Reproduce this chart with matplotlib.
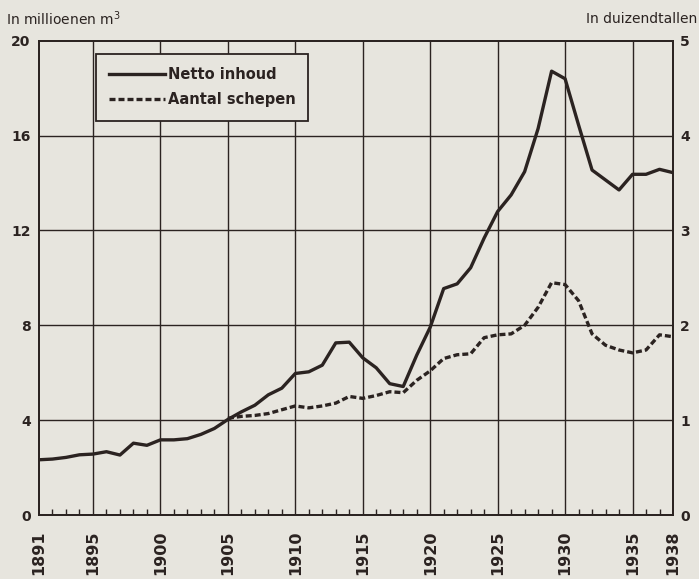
import numpy as np
import matplotlib.pyplot as plt

# jaren en waarden
jaren = list(range(1891, 1939))
netto_inhoud = [2.33, 2.36, 2.43, 2.54, 2.57, 2.67, 2.53, 3.03, 2.94, 3.17,
                3.17, 3.22, 3.40, 3.65, 4.03, 4.35, 4.63, 5.07, 5.35, 5.97,
                6.04, 6.32, 7.26, 7.29, 6.63, 6.21, 5.54, 5.42, 6.74, 7.92,
                9.55, 9.75, 10.43, 11.68, 12.80, 13.50, 14.48, 16.30, 18.72, 18.40,
                16.45, 14.55, 14.13, 13.71, 14.37, 14.37, 14.58, 14.44]

jaren_schepen = list(range(1905, 1939))
aantal_schepen = [1.02, 1.04, 1.05, 1.07, 1.11, 1.15, 1.13, 1.15, 1.18, 1.25,
                  1.23, 1.26, 1.30, 1.29, 1.42, 1.52, 1.65, 1.69, 1.70, 1.87,
                  1.90, 1.91, 2.00, 2.19, 2.45, 2.43, 2.26, 1.91, 1.79, 1.74,
                  1.71, 1.74, 1.90, 1.88]

jaar_labels = [1891, 1895, 1900, 1905, 1910, 1915, 1920, 1925, 1930, 1935, 1938]
links_ticks = [0, 4, 8, 12, 16, 20]
rechts_ticks = [0, 1, 2, 3, 4, 5]

papier = '#e7e5de'
inkt = '#2b2321'

fig = plt.figure(figsize=(6.99, 5.79), dpi=100, facecolor=papier)
ax = fig.add_axes([0.0558, 0.1105, 0.907, 0.819])
ax.set_facecolor(papier)

ax.plot(jaren, netto_inhoud, color=inkt, lw=2.4, solid_joinstyle='round',
        label='Netto inhoud')
ax2 = ax.twinx()
ax2.plot(jaren_schepen, aantal_schepen, color=inkt, lw=2.4,
         dashes=(1.8, 0.9), label='Aantal schepen')

ax.set_xlim(1891, 1938)
ax.set_ylim(0, 20)
ax2.set_ylim(0, 5)

# raster
for j in jaar_labels[1:-1]:
    ax.axvline(j, color=inkt, lw=1.0, zorder=0)
for v in links_ticks[1:-1]:
    ax.axhline(v, color=inkt, lw=1.0, zorder=0)

for a in (ax, ax2):
    for s in a.spines.values():
        s.set_color(inkt)
        s.set_linewidth(1.3)

ax.set_xticks(jaar_labels)
ax.set_xticklabels([str(j) for j in jaar_labels], rotation=90,
                   fontsize=11.5, fontweight='bold', color=inkt)
ax.set_xticks(jaren, minor=True)
ax.tick_params(axis='x', which='major', length=0, pad=11)
ax.tick_params(axis='x', which='minor', direction='in', length=4,
               width=1, color=inkt)

ax.set_yticks(links_ticks)
ax.set_yticklabels([str(v) for v in links_ticks], fontsize=10,
                   fontweight='bold', color=inkt)
ax.tick_params(axis='y', length=0, pad=6)

ax2.set_yticks(rechts_ticks)
ax2.set_yticklabels([str(v) for v in rechts_ticks], fontsize=10,
                    fontweight='bold', color=inkt)
ax2.tick_params(axis='y', length=0, pad=5)

fig.text(0.008, 0.968, 'In millioenen m$^3$', fontsize=10, color=inkt,
         ha='left', va='center')
fig.text(0.997, 0.968, 'In duizendtallen', fontsize=10, color=inkt,
         ha='right', va='center')

h1, l1 = ax.get_legend_handles_labels()
h2, l2 = ax2.get_legend_handles_labels()
leg = ax2.legend(h1 + h2, l1 + l2, loc='upper left',
                 bbox_to_anchor=(0.09, 0.972), borderaxespad=0,
                 handlelength=3.8, handletextpad=0.2, fancybox=False,
                 framealpha=1, facecolor=papier, edgecolor=inkt,
                 prop={'size': 10.5, 'weight': 'bold'},
                 borderpad=0.9, labelspacing=0.7)
leg.get_frame().set_linewidth(1.3)
for t in leg.get_texts():
    t.set_color(inkt)

fig.savefig('out.png', dpi=100, facecolor=papier)
